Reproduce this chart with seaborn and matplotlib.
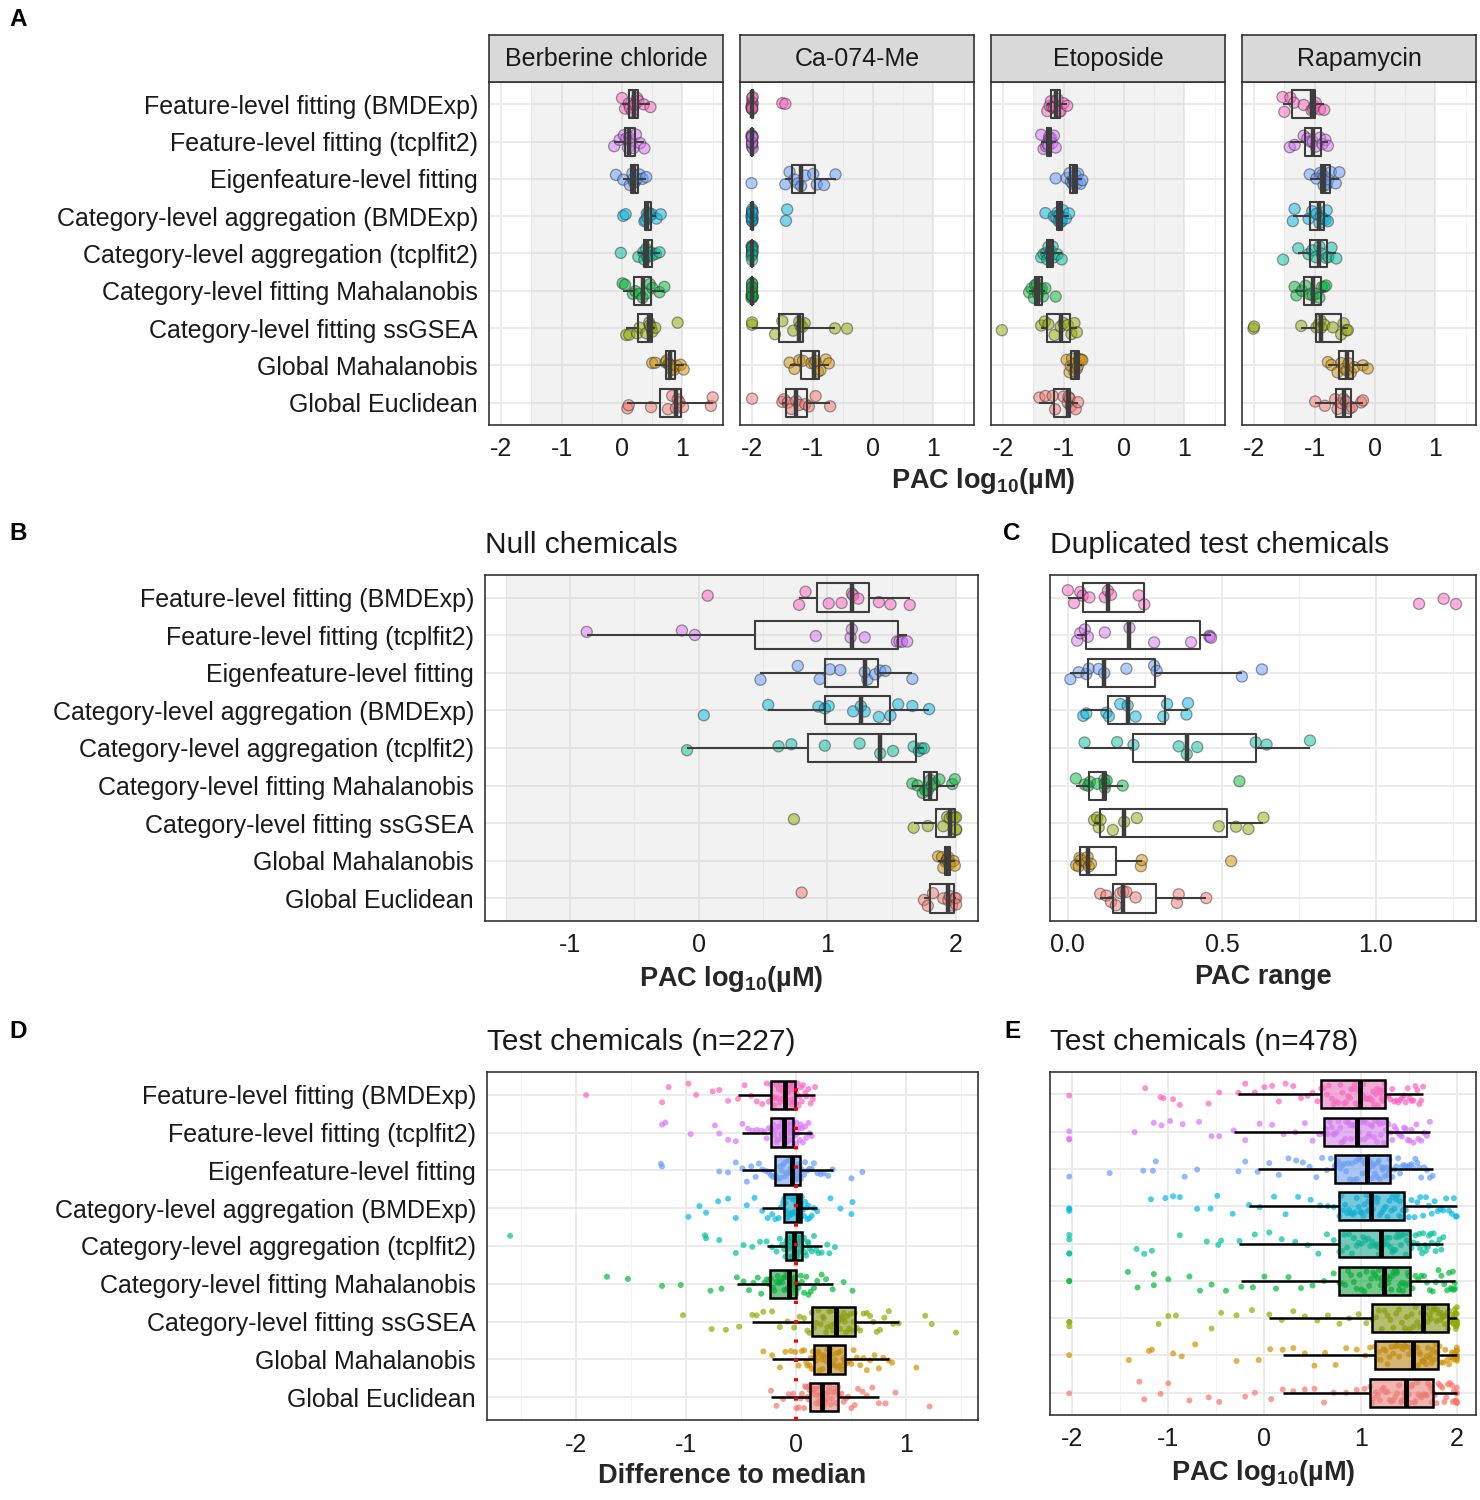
import matplotlib
matplotlib.use("Agg")
import matplotlib.pyplot as plt
import numpy as np
import pandas as pd
import seaborn as sns

np.random.seed(7)  # jitter only

methods = [
    "Feature-level fitting (BMDExp)",
    "Feature-level fitting (tcplfit2)",
    "Eigenfeature-level fitting",
    "Category-level aggregation (BMDExp)",
    "Category-level aggregation (tcplfit2)",
    "Category-level fitting Mahalanobis",
    "Category-level fitting ssGSEA",
    "Global Mahalanobis",
    "Global Euclidean",
]
colors = ["#FF61C3", "#DB72FB", "#619CFF", "#00B9E3", "#00C19F",
          "#00BA38", "#93AA00", "#D39200", "#F8766D"]

# ---- panel A: PAC per reference chemical (one list per method row)
chemicals = ["Berberine chloride", "Ca-074-Me", "Etoposide", "Rapamycin"]
pac_berberine = [
    [0.00, 0.05, 0.11, 0.13, 0.17, 0.19, 0.22, 0.25, 0.27, 0.36, 0.47],
    [-0.13, -0.04, 0.03, 0.07, 0.10, 0.12, 0.15, 0.19, 0.23, 0.30, 0.37],
    [-0.10, 0.02, 0.13, 0.17, 0.18, 0.20, 0.22, 0.25, 0.29, 0.34, 0.40],
    [0.02, 0.06, 0.37, 0.39, 0.41, 0.42, 0.44, 0.47, 0.49, 0.57, 0.64],
    [-0.02, 0.27, 0.35, 0.37, 0.40, 0.42, 0.44, 0.48, 0.50, 0.56, 0.62],
    [0.01, 0.05, 0.18, 0.22, 0.29, 0.34, 0.40, 0.46, 0.50, 0.62, 0.70],
    [0.07, 0.12, 0.25, 0.29, 0.40, 0.45, 0.46, 0.48, 0.50, 0.55, 0.92],
    [0.50, 0.55, 0.72, 0.74, 0.77, 0.79, 0.82, 0.86, 0.90, 0.97, 1.02],
    [0.09, 0.11, 0.48, 0.76, 0.83, 0.89, 0.92, 0.95, 1.01, 1.47, 1.50],
]
pac_ca074 = [
    [-2.01, -2.0, -2.0, -2.0, -1.99, -2.0, -2.01, -2.0, -2.0, -1.99, -1.50, -1.45],
    [-2.01, -2.0, -2.0, -2.0, -1.99, -2.0, -2.01, -2.0, -2.0, -1.99, -2.0, -2.0],
    [-2.01, -1.45, -1.38, -1.30, -1.24, -1.19, -1.12, -0.99, -0.93, -0.81, -0.62],
    [-2.01, -2.0, -2.0, -2.0, -1.99, -2.0, -2.01, -2.0, -2.0, -1.99, -1.44, -1.42],
    [-2.01, -2.0, -2.0, -2.0, -1.99, -2.0, -2.01, -2.0, -2.0, -1.99, -2.0, -2.0],
    [-2.01, -2.0, -2.0, -2.0, -1.99, -2.0, -2.01, -2.0, -2.0, -1.99, -2.0, -2.0],
    [-2.0, -2.0, -1.62, -1.50, -1.32, -1.22, -1.20, -1.17, -1.13, -0.63, -0.43],
    [-1.38, -1.30, -1.22, -1.16, -1.02, -0.97, -0.95, -0.91, -0.87, -0.78, -0.73],
    [-2.0, -1.50, -1.47, -1.41, -1.35, -1.27, -1.22, -1.12, -1.06, -0.95, -0.71],
]
pac_etoposide = [
    [-1.27, -1.23, -1.21, -1.19, -1.16, -1.13, -1.10, -1.07, -1.05, -1.00, -0.94],
    [-1.37, -1.33, -1.29, -1.27, -1.25, -1.24, -1.23, -1.21, -1.19, -1.16, -1.13],
    [-1.13, -0.95, -0.90, -0.88, -0.85, -0.83, -0.80, -0.78, -0.76, -0.72, -0.69],
    [-1.30, -1.16, -1.12, -1.10, -1.08, -1.07, -1.05, -1.03, -1.01, -0.96, -0.91],
    [-1.37, -1.33, -1.29, -1.27, -1.25, -1.23, -1.21, -1.18, -1.16, -1.10, -1.03],
    [-1.57, -1.53, -1.49, -1.47, -1.44, -1.42, -1.40, -1.36, -1.34, -1.30, -1.13],
    [-2.02, -1.37, -1.31, -1.25, -1.15, -1.05, -1.00, -0.93, -0.87, -0.82, -0.78],
    [-0.95, -0.90, -0.88, -0.86, -0.82, -0.80, -0.78, -0.76, -0.74, -0.71, -0.69],
    [-1.40, -1.30, -1.18, -1.14, -1.00, -0.93, -0.92, -0.90, -0.88, -0.80, -0.76],
]
pac_rapamycin = [
    [-1.53, -1.50, -1.40, -1.34, -1.18, -1.05, -1.02, -1.00, -0.98, -0.91, -0.84],
    [-1.41, -1.33, -1.18, -1.12, -1.07, -1.03, -0.98, -0.91, -0.87, -0.82, -0.78],
    [-1.08, -0.97, -0.91, -0.87, -0.85, -0.84, -0.80, -0.77, -0.73, -0.65, -0.59],
    [-1.36, -1.33, -1.10, -1.04, -0.97, -0.92, -0.90, -0.86, -0.82, -0.80, -0.78],
    [-1.52, -1.27, -1.10, -1.04, -0.98, -0.92, -0.88, -0.81, -0.77, -0.72, -0.64],
    [-1.33, -1.30, -1.21, -1.15, -1.08, -1.03, -0.97, -0.92, -0.88, -0.84, -0.81],
    [-2.01, -2.00, -1.22, -0.97, -0.93, -0.90, -0.89, -0.84, -0.70, -0.56, -0.52, -0.47, -0.45],
    [-0.78, -0.72, -0.62, -0.56, -0.50, -0.47, -0.44, -0.40, -0.34, -0.20, -0.12],
    [-0.99, -0.83, -0.66, -0.62, -0.55, -0.52, -0.48, -0.42, -0.38, -0.23, -0.20],
]

# ---- panel B: null chemicals
pac_null = [
    [0.07, 0.78, 0.83, 1.01, 1.11, 1.19, 1.20, 1.24, 1.40, 1.49, 1.64],
    [-0.87, -0.13, -0.03, 0.91, 1.18, 1.19, 1.29, 1.54, 1.56, 1.58, 1.62],
    [0.48, 0.77, 0.94, 1.02, 1.10, 1.29, 1.31, 1.37, 1.41, 1.45, 1.66],
    [0.04, 0.54, 0.93, 0.98, 1.01, 1.20, 1.26, 1.29, 1.40, 1.49, 1.55, 1.66, 1.79],
    [-0.09, 0.62, 0.72, 0.98, 1.25, 1.41, 1.51, 1.67, 1.71, 1.73, 1.75],
    [1.66, 1.70, 1.74, 1.76, 1.78, 1.80, 1.81, 1.83, 1.87, 1.97, 1.99],
    [0.74, 1.67, 1.78, 1.90, 1.93, 1.95, 1.97, 1.99, 2.00, 2.00, 2.00],
    [1.86, 1.89, 1.90, 1.92, 1.93, 1.93, 1.94, 1.95, 1.95, 1.98, 1.99],
    [0.80, 1.75, 1.78, 1.82, 1.90, 1.94, 1.95, 1.97, 1.99, 2.00, 2.00],
]

# ---- panel C: duplicated test chemicals (PAC range)
pac_range_dup = [
    [0.00, 0.02, 0.04, 0.048, 0.07, 0.12, 0.13, 0.14, 0.23, 0.248, 1.14, 1.22, 1.26],
    [0.03, 0.04, 0.055, 0.065, 0.12, 0.20, 0.28, 0.40, 0.46, 0.46, 0.465],
    [0.008, 0.035, 0.06, 0.068, 0.10, 0.118, 0.19, 0.28, 0.288, 0.565, 0.63],
    [0.05, 0.06, 0.125, 0.133, 0.17, 0.194, 0.22, 0.31, 0.322, 0.385, 0.39],
    [0.054, 0.16, 0.213, 0.36, 0.386, 0.42, 0.61, 0.645, 0.786],
    [0.026, 0.055, 0.066, 0.072, 0.095, 0.118, 0.12, 0.12, 0.126, 0.178, 0.557],
    [0.085, 0.095, 0.10, 0.106, 0.146, 0.183, 0.224, 0.49, 0.546, 0.586, 0.635],
    [0.027, 0.035, 0.038, 0.042, 0.06, 0.064, 0.068, 0.075, 0.237, 0.24, 0.53],
    [0.105, 0.125, 0.14, 0.156, 0.17, 0.18, 0.19, 0.22, 0.354, 0.36, 0.449],
]

# ---- panel D: test chemicals (n=227), difference to median
diff_median_227 = [
    [-1.91, -1.22, -1.16, -0.98, -0.91, -0.76, -0.70, -0.62, -0.53, -0.47, -0.41, -0.36, -0.31, -0.27, -0.25,
     -0.23, -0.22, -0.21, -0.20, -0.19, -0.18, -0.17, -0.16, -0.15, -0.14, -0.13, -0.13, -0.12, -0.11, -0.11,
     -0.10, -0.09, -0.09, -0.08, -0.07, -0.07, -0.06, -0.05, -0.05, -0.04, -0.04, -0.03, -0.03, -0.02, -0.02,
     -0.01, -0.01, 0.00, 0.00, 0.01, 0.02, 0.03, 0.04, 0.05, 0.06, 0.08, 0.09, 0.11, 0.13, 0.15, 0.17],
    [-1.22, -1.19, -0.96, -0.74, -0.70, -0.62, -0.55, -0.49, -0.44, -0.40, -0.36, -0.32, -0.29, -0.27, -0.25,
     -0.23, -0.22, -0.21, -0.20, -0.19, -0.18, -0.17, -0.16, -0.16, -0.15, -0.14, -0.13, -0.13, -0.12, -0.12,
     -0.11, -0.10, -0.10, -0.09, -0.09, -0.08, -0.08, -0.07, -0.07, -0.06, -0.05, -0.05, -0.04, -0.04, -0.03,
     -0.03, -0.02, -0.01, 0.00, 0.00, 0.01, 0.02, 0.03, 0.04, 0.05, 0.06, 0.08, 0.09, 0.11, 0.12, 0.14],
    [-1.23, -1.22, -0.70, -0.62, -0.55, -0.49, -0.45, -0.41, -0.37, -0.34, -0.31, -0.28, -0.25, -0.23, -0.21,
     -0.19, -0.18, -0.17, -0.15, -0.14, -0.13, -0.12, -0.11, -0.10, -0.09, -0.08, -0.07, -0.06, -0.05, -0.05,
     -0.04, -0.04, -0.03, -0.03, -0.02, -0.02, -0.01, -0.01, 0.00, 0.00, 0.01, 0.01, 0.02, 0.02, 0.03,
     0.03, 0.04, 0.05, 0.07, 0.08, 0.10, 0.12, 0.14, 0.16, 0.19, 0.22, 0.25, 0.29, 0.33, 0.50, 0.60],
    [-0.98, -0.88, -0.82, -0.71, -0.62, -0.55, -0.45, -0.38, -0.31, -0.26, -0.22, -0.19, -0.16, -0.14, -0.12,
     -0.11, -0.10, -0.09, -0.08, -0.07, -0.06, -0.05, -0.04, -0.03, -0.02, -0.01, -0.01, 0.00, 0.00, 0.01,
     0.015, 0.02, 0.02, 0.02, 0.03, 0.03, 0.03, 0.03, 0.03, 0.04, 0.04, 0.04, 0.04, 0.04, 0.04,
     0.04, 0.05, 0.06, 0.07, 0.08, 0.09, 0.10, 0.11, 0.12, 0.14, 0.16, 0.19, 0.31, 0.40, 0.50, 0.51],
    [-2.60, -0.83, -0.82, -0.70, -0.55, -0.48, -0.40, -0.33, -0.27, -0.22, -0.18, -0.15, -0.13, -0.11, -0.10,
     -0.09, -0.085, -0.08, -0.075, -0.07, -0.065, -0.06, -0.055, -0.05, -0.045, -0.04, -0.035, -0.03, -0.025, -0.025,
     -0.02, -0.015, -0.01, -0.005, 0.00, 0.005, 0.01, 0.015, 0.02, 0.025, 0.03, 0.035, 0.04, 0.045, 0.045,
     0.05, 0.06, 0.07, 0.08, 0.09, 0.10, 0.11, 0.12, 0.14, 0.16, 0.18, 0.20, 0.23, 0.28, 0.30, 0.35],
    [-1.72, -1.53, -1.22, -1.05, -0.78, -0.68, -0.54, -0.48, -0.43, -0.39, -0.35, -0.32, -0.29, -0.27, -0.25,
     -0.24, -0.23, -0.21, -0.20, -0.18, -0.17, -0.16, -0.15, -0.13, -0.12, -0.11, -0.10, -0.09, -0.08, -0.08,
     -0.07, -0.065, -0.06, -0.055, -0.05, -0.045, -0.04, -0.035, -0.03, -0.025, -0.02, -0.015, -0.01, -0.005, -0.005,
     0.00, 0.01, 0.02, 0.04, 0.05, 0.07, 0.09, 0.11, 0.13, 0.16, 0.19, 0.23, 0.27, 0.33, 0.43, 0.51],
    [-1.03, -0.77, -0.64, -0.52, -0.40, -0.36, -0.30, -0.22, -0.15, -0.08, -0.02, 0.03, 0.07, 0.10, 0.12,
     0.14, 0.16, 0.18, 0.20, 0.22, 0.24, 0.25, 0.27, 0.28, 0.30, 0.31, 0.32, 0.33, 0.34, 0.35,
     0.36, 0.37, 0.38, 0.39, 0.40, 0.41, 0.42, 0.43, 0.44, 0.45, 0.46, 0.48, 0.49, 0.50, 0.52,
     0.53, 0.55, 0.58, 0.61, 0.64, 0.67, 0.70, 0.73, 0.76, 0.80, 0.84, 0.88, 0.93, 1.17, 1.23, 1.45],
    [-0.30, -0.22, -0.15, -0.10, -0.05, -0.01, 0.02, 0.05, 0.07, 0.09, 0.10, 0.12, 0.13, 0.14, 0.15,
     0.16, 0.17, 0.18, 0.19, 0.20, 0.21, 0.22, 0.23, 0.24, 0.25, 0.26, 0.27, 0.28, 0.29, 0.29,
     0.30, 0.31, 0.32, 0.33, 0.34, 0.35, 0.36, 0.37, 0.38, 0.39, 0.40, 0.41, 0.42, 0.43, 0.43,
     0.44, 0.46, 0.48, 0.50, 0.52, 0.55, 0.58, 0.61, 0.64, 0.67, 0.71, 0.75, 0.79, 0.84, 0.87, 1.09],
    [-0.23, -0.18, -0.12, -0.07, -0.03, 0.00, 0.02, 0.04, 0.05, 0.07, 0.08, 0.09, 0.10, 0.11, 0.115,
     0.12, 0.13, 0.14, 0.145, 0.15, 0.16, 0.17, 0.175, 0.18, 0.19, 0.20, 0.205, 0.21, 0.22, 0.225,
     0.23, 0.24, 0.25, 0.26, 0.27, 0.28, 0.29, 0.30, 0.31, 0.32, 0.33, 0.34, 0.35, 0.36, 0.37,
     0.38, 0.39, 0.41, 0.43, 0.45, 0.47, 0.50, 0.53, 0.56, 0.60, 0.64, 0.69, 0.75, 0.81, 0.90, 1.21],
]

# ---- panel E: test chemicals (n=478), PAC log10(uM)
pac_test_478 = [
    [-2.03, -1.24, -1.08, -1.05, -0.95, -0.88, -0.58, -0.47, -0.27, -0.20, -0.10, 0.00, 0.08, 0.15, 0.22, 0.30, 0.38, 0.45, 0.50, 0.55,
     0.59, 0.62, 0.65, 0.67, 0.70, 0.72, 0.74, 0.77, 0.79, 0.81, 0.83, 0.85, 0.87, 0.89, 0.90, 0.92, 0.94, 0.95, 0.96, 0.98,
     0.99, 1.00, 1.02, 1.03, 1.05, 1.06, 1.08, 1.09, 1.10, 1.12, 1.13, 1.14, 1.16, 1.17, 1.18, 1.20, 1.21, 1.22, 1.23, 1.24,
     1.25, 1.27, 1.29, 1.31, 1.33, 1.35, 1.37, 1.39, 1.41, 1.43, 1.45, 1.47, 1.49, 1.51, 1.53, 1.55, 1.57, 1.59, 1.61, 1.63, 1.65],
    [-2.03, -2.03, -2.03, -1.35, -1.15, -1.07, -0.98, -0.85, -0.68, -0.55, -0.47, -0.32, -0.20, -0.05, 0.08, 0.20, 0.32, 0.42, 0.50, 0.57,
     0.62, 0.64, 0.66, 0.68, 0.70, 0.72, 0.73, 0.75, 0.77, 0.79, 0.80, 0.82, 0.84, 0.85, 0.87, 0.89, 0.90, 0.92, 0.93, 0.95,
     0.96, 0.98, 0.99, 1.01, 1.03, 1.04, 1.06, 1.08, 1.09, 1.11, 1.12, 1.14, 1.15, 1.17, 1.18, 1.20, 1.21, 1.23, 1.24, 1.26,
     1.27, 1.29, 1.31, 1.33, 1.35, 1.37, 1.39, 1.41, 1.43, 1.45, 1.47, 1.49, 1.51, 1.53, 1.55, 1.58, 1.60, 1.63, 1.66, 1.69, 1.72],
    [-2.03, -1.61, -1.26, -1.16, -1.13, -0.83, -0.70, -0.27, -0.20, -0.07, 0.05, 0.15, 0.25, 0.33, 0.40, 0.47, 0.54, 0.60, 0.65, 0.69,
     0.73, 0.75, 0.77, 0.79, 0.81, 0.83, 0.85, 0.87, 0.89, 0.91, 0.93, 0.95, 0.96, 0.98, 0.99, 1.01, 1.02, 1.04, 1.05, 1.06,
     1.07, 1.08, 1.09, 1.10, 1.12, 1.13, 1.14, 1.15, 1.17, 1.18, 1.19, 1.20, 1.22, 1.23, 1.24, 1.25, 1.27, 1.28, 1.29, 1.30,
     1.31, 1.33, 1.35, 1.37, 1.39, 1.41, 1.43, 1.45, 1.47, 1.49, 1.51, 1.53, 1.55, 1.57, 1.59, 1.61, 1.63, 1.66, 1.69, 1.72, 1.75],
    [-2.03, -2.03, -2.03, -1.18, -1.03, -0.95, -0.88, -0.70, -0.56, -0.49, -0.33, -0.16, -0.05, 0.10, 0.22, 0.35, 0.48, 0.58, 0.66, 0.72,
     0.78, 0.80, 0.82, 0.84, 0.86, 0.88, 0.90, 0.92, 0.94, 0.96, 0.98, 1.00, 1.01, 1.03, 1.04, 1.06, 1.07, 1.08, 1.09, 1.10,
     1.11, 1.13, 1.15, 1.17, 1.18, 1.20, 1.22, 1.24, 1.26, 1.28, 1.30, 1.32, 1.33, 1.35, 1.37, 1.38, 1.40, 1.41, 1.42, 1.44,
     1.45, 1.47, 1.50, 1.53, 1.56, 1.59, 1.62, 1.65, 1.68, 1.71, 1.74, 1.77, 1.80, 1.83, 1.86, 1.89, 1.92, 1.95, 1.97, 1.99, 2.00],
    [-2.03, -2.03, -2.03, -2.03, -1.33, -1.25, -1.17, -0.88, -0.60, -0.48, -0.45, -0.26, -0.10, 0.05, 0.18, 0.32, 0.45, 0.56, 0.65, 0.72,
     0.78, 0.81, 0.83, 0.86, 0.88, 0.91, 0.93, 0.96, 0.98, 1.01, 1.03, 1.05, 1.08, 1.10, 1.12, 1.14, 1.16, 1.18, 1.19, 1.20,
     1.21, 1.22, 1.24, 1.25, 1.27, 1.28, 1.30, 1.31, 1.33, 1.34, 1.36, 1.37, 1.39, 1.40, 1.42, 1.43, 1.45, 1.47, 1.48, 1.50,
     1.51, 1.53, 1.55, 1.57, 1.59, 1.61, 1.62, 1.64, 1.65, 1.67, 1.68, 1.70, 1.71, 1.73, 1.74, 1.76, 1.78, 1.80, 1.82, 1.84, 1.86],
    [-2.03, -2.03, -1.42, -1.32, -1.15, -1.15, -1.00, -0.78, -0.67, -0.55, -0.40, -0.24, -0.12, 0.00, 0.12, 0.25, 0.38, 0.50, 0.62, 0.72,
     0.78, 0.81, 0.84, 0.87, 0.90, 0.93, 0.96, 0.99, 1.01, 1.04, 1.06, 1.09, 1.11, 1.13, 1.15, 1.17, 1.19, 1.21, 1.22, 1.23,
     1.24, 1.25, 1.26, 1.28, 1.29, 1.30, 1.32, 1.33, 1.34, 1.36, 1.37, 1.38, 1.40, 1.41, 1.43, 1.44, 1.46, 1.47, 1.49, 1.50,
     1.51, 1.54, 1.57, 1.60, 1.63, 1.66, 1.69, 1.72, 1.75, 1.78, 1.81, 1.84, 1.87, 1.90, 1.92, 1.94, 1.95, 1.96, 1.97, 1.98, 1.98],
    [-2.03, -2.03, -2.03, -1.10, -1.00, -0.92, -0.55, -0.45, -0.29, -0.13, 0.05, 0.18, 0.30, 0.42, 0.55, 0.66, 0.78, 0.88, 0.98, 1.06,
     1.12, 1.16, 1.19, 1.22, 1.25, 1.28, 1.31, 1.34, 1.37, 1.40, 1.43, 1.46, 1.48, 1.51, 1.53, 1.55, 1.57, 1.59, 1.61, 1.63,
     1.65, 1.66, 1.67, 1.69, 1.70, 1.72, 1.73, 1.74, 1.76, 1.77, 1.79, 1.80, 1.81, 1.83, 1.84, 1.85, 1.86, 1.88, 1.89, 1.90,
     1.91, 1.92, 1.93, 1.94, 1.95, 1.96, 1.97, 1.97, 1.98, 1.98, 1.99, 1.99, 1.99, 2.00, 2.00, 2.00, 2.00, 2.00, 2.00, 2.00, 2.00],
    [-2.03, -1.41, -1.20, -1.17, -0.95, -0.86, -0.72, -0.29, -0.06, 0.06, 0.19, 0.30, 0.42, 0.52, 0.63, 0.74, 0.85, 0.96, 1.05, 1.10,
     1.15, 1.17, 1.19, 1.21, 1.24, 1.26, 1.28, 1.30, 1.32, 1.34, 1.36, 1.38, 1.40, 1.42, 1.44, 1.46, 1.48, 1.50, 1.52, 1.54,
     1.55, 1.56, 1.57, 1.59, 1.60, 1.61, 1.62, 1.64, 1.65, 1.66, 1.68, 1.69, 1.70, 1.72, 1.73, 1.74, 1.75, 1.77, 1.78, 1.79,
     1.80, 1.82, 1.84, 1.86, 1.88, 1.90, 1.92, 1.94, 1.95, 1.96, 1.97, 1.98, 1.99, 2.00, 2.00, 2.00, 2.00, 2.00, 2.00, 2.00, 2.00],
    [-2.03, -1.30, -1.25, -1.08, -1.00, -0.78, -0.58, -0.47, -0.20, -0.10, 0.07, 0.19, 0.30, 0.42, 0.52, 0.62, 0.72, 0.85, 0.96, 1.04,
     1.10, 1.12, 1.14, 1.16, 1.18, 1.20, 1.22, 1.24, 1.26, 1.28, 1.30, 1.32, 1.34, 1.36, 1.38, 1.40, 1.42, 1.43, 1.45, 1.46,
     1.47, 1.48, 1.50, 1.51, 1.53, 1.54, 1.56, 1.57, 1.59, 1.60, 1.62, 1.63, 1.65, 1.66, 1.68, 1.69, 1.70, 1.72, 1.73, 1.74,
     1.75, 1.77, 1.79, 1.81, 1.83, 1.85, 1.87, 1.89, 1.91, 1.93, 1.95, 1.96, 1.97, 1.98, 1.99, 2.00, 2.00, 2.00, 2.00, 2.00, 2.00],
]

sns.set_theme(style="white")
plt.rcParams["font.family"] = ["Liberation Sans", "DejaVu Sans"]
plt.rcParams["axes.unicode_minus"] = False
plt.rcParams["mathtext.default"] = "regular"

W, H = 1480, 1500
fig = plt.figure(figsize=(W / 100, H / 100), dpi=100)

LABEL_SIZE = 18
TITLE_SIZE = 21.5
XLAB_SIZE = 19.5


def rect(x0, y0, x1, y1):
    return [x0 / W, 1 - y1 / H, (x1 - x0) / W, (y1 - y0) / H]


def to_frame(rows):
    return pd.DataFrame({
        "method": [m for m, vals in zip(methods, rows) for _ in vals],
        "value": [v for vals in rows for v in vals],
    })


def finish(ax, xlim, major, minor, labels, ticklabels=None):
    ax.set_xlim(*xlim)
    ax.set_ylim(8.6, -0.6)
    ax.set_xticks(major)
    if ticklabels is not None:
        ax.set_xticklabels(ticklabels)
    ax.set_xticks(minor, minor=True)
    ax.set_yticks(range(len(methods)))
    ax.set_yticklabels(methods)
    ax.set_axisbelow(True)
    ax.grid(True, which="major", color="#EBEBEB", linewidth=1.4)
    ax.grid(True, which="minor", axis="x", color="#F2F2F2", linewidth=0.8)
    ax.set_xlabel("")
    ax.set_ylabel("")
    for s in ax.spines.values():
        s.set_color("#333333")
        s.set_linewidth(1.2)
    ax.tick_params(axis="both", which="major", length=5, width=1.0, color="#333333",
                   labelsize=LABEL_SIZE, labelcolor="#1a1a1a", pad=3)
    ax.tick_params(axis="x", which="major", pad=4)
    ax.tick_params(axis="x", which="minor", length=0)
    if labels == "none":
        ax.tick_params(axis="y", left=False, labelleft=False)
    elif labels == "ticks":
        ax.tick_params(axis="y", labelleft=False)


def big_points(ax, rows, xlim, major, minor, shade=None, labels="full", ticklabels=None):
    df = to_frame(rows)
    if shade is not None:
        ax.axvspan(*shade, color="#BEBEBE", alpha=0.2, lw=0, zorder=0.8)
    sns.stripplot(data=df, x="value", y="method", hue="method", order=methods, hue_order=methods,
                  palette=colors, orient="h", jitter=0.2, size=8, alpha=0.5, linewidth=0.9,
                  edgecolor="#333333", legend=False, zorder=2, ax=ax)
    sns.boxplot(data=df, x="value", y="method", order=methods, orient="h", fill=False,
                color="#3d3d3d", width=0.75, showcaps=False, showfliers=False, linewidth=1.5,
                medianprops={"linewidth": 3.2}, ax=ax)
    finish(ax, xlim, major, minor, labels, ticklabels)


def small_points(ax, rows, xlim, major, minor, labels="full"):
    df = to_frame(rows)
    sns.stripplot(data=df, x="value", y="method", hue="method", order=methods, hue_order=methods,
                  palette=colors, orient="h", jitter=0.3, size=4.3, alpha=0.7, linewidth=0,
                  legend=False, zorder=1, ax=ax)
    sns.boxplot(data=df, x="value", y="method", hue="method", order=methods, hue_order=methods,
                palette=colors, orient="h", legend=False, linecolor="black", width=0.75,
                showcaps=False, showfliers=False, linewidth=1.8,
                medianprops={"linewidth": 3.5}, ax=ax)
    for p in ax.patches:
        fc = p.get_facecolor()
        p.set_facecolor((fc[0], fc[1], fc[2], 0.6))
    finish(ax, xlim, major, minor, labels)


# ---- Panel A: facets
facet_x = [(489, 723), (740, 974), (991, 1225), (1242, 1476)]
facet_data = [pac_berberine, pac_ca074, pac_etoposide, pac_rapamycin]
for i, (name, (x0, x1), rows) in enumerate(zip(chemicals, facet_x, facet_data)):
    ax = fig.add_axes(rect(x0, 82, x1, 425))
    big_points(ax, rows, (-2.2, 1.67), [-2, -1, 0, 1], [-1.5, -0.5, 0.5, 1.5],
               shade=(-1.5, 1.0), labels="full" if i == 0 else "none")
    strip = fig.add_axes(rect(x0, 35, x1, 82))
    strip.set_facecolor("#D9D9D9")
    strip.set_xticks([])
    strip.set_yticks([])
    for s in strip.spines.values():
        s.set_color("#333333")
        s.set_linewidth(1.2)
    strip.text(0.5, 0.48, name, ha="center", va="center", fontsize=18, color="#1a1a1a",
               transform=strip.transAxes)
fig.text(983 / W, 1 - 481 / H, "PAC log$_{10}$(µM)", ha="center", va="center",
         fontsize=XLAB_SIZE, fontweight="bold")

# ---- Panel B
axB = fig.add_axes(rect(485, 575, 978, 921))
big_points(axB, pac_null, (-1.66, 2.17), [-1, 0, 1, 2], [-1.5, -0.5, 0.5, 1.5], shade=(-1.5, 2.0))
axB.set_title("Null chemicals", loc="left", fontsize=TITLE_SIZE, pad=16, color="#1a1a1a")
axB.set_xlabel("PAC log$_{10}$(µM)", fontsize=XLAB_SIZE, fontweight="bold", labelpad=5)

# ---- Panel C
axC = fig.add_axes(rect(1050, 575, 1476, 921))
big_points(axC, pac_range_dup, (-0.058, 1.325), [0.0, 0.5, 1.0], [0.25, 0.75, 1.25],
           labels="ticks", ticklabels=["0.0", "0.5", "1.0"])
axC.set_title("Duplicated test chemicals", loc="left", fontsize=TITLE_SIZE, pad=16, color="#1a1a1a")
axC.set_xlabel("PAC range", fontsize=XLAB_SIZE, fontweight="bold", labelpad=5)

# ---- Panel D
axD = fig.add_axes(rect(487, 1072, 978, 1420))
small_points(axD, diff_median_227, (-2.81, 1.65), [-2, -1, 0, 1], [-2.5, -1.5, -0.5, 0.5, 1.5])
axD.axvline(0, color="red", linewidth=2.9, linestyle=(0, (0.8, 4)), zorder=10)
axD.set_title("Test chemicals (n=227)", loc="left", fontsize=TITLE_SIZE, pad=16, color="#1a1a1a")
axD.set_xlabel("Difference to median", fontsize=XLAB_SIZE, fontweight="bold", labelpad=5)

# ---- Panel E
axE = fig.add_axes(rect(1050, 1072, 1476, 1415))
small_points(axE, pac_test_478, (-2.23, 2.2), [-2, -1, 0, 1, 2], [-1.5, -0.5, 0.5, 1.5],
             labels="ticks")
axE.set_title("Test chemicals (n=478)", loc="left", fontsize=TITLE_SIZE, pad=16, color="#1a1a1a")
axE.set_xlabel("PAC log$_{10}$(µM)", fontsize=XLAB_SIZE, fontweight="bold", labelpad=5)

# panel letters
for letter, x, y in [("A", 18, 20), ("B", 18, 534), ("C", 1012, 534), ("D", 18, 1031), ("E", 1012, 1031)]:
    fig.text(x / W, 1 - y / H, letter, ha="center", va="center", fontsize=17.5, fontweight="bold",
             color="black")

fig.savefig("out.png", dpi=100, facecolor="white")
